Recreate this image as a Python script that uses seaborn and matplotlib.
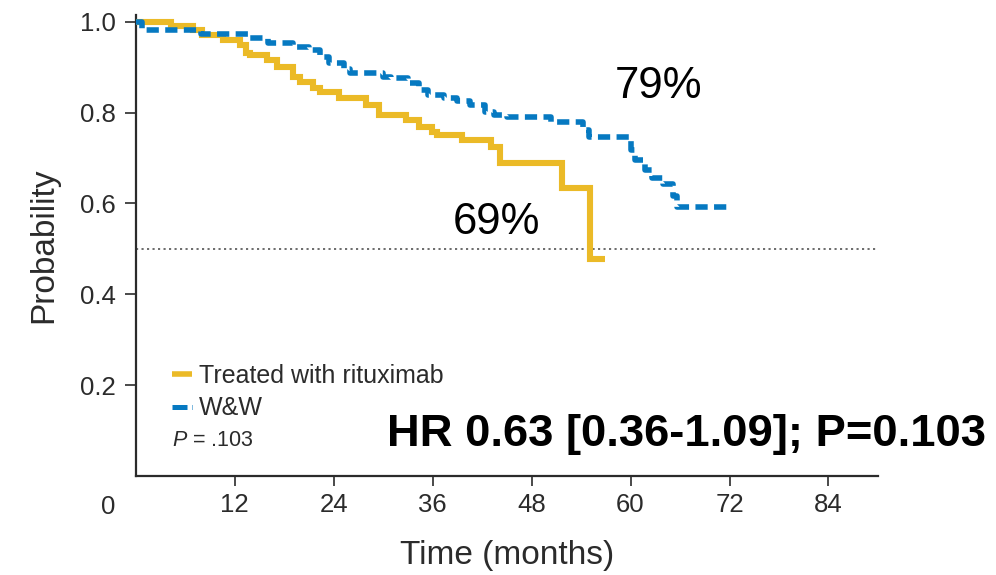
import matplotlib
matplotlib.use("Agg")
import matplotlib.pyplot as plt
from matplotlib.lines import Line2D
import pandas as pd
import seaborn as sns

# Kaplan-Meier step estimates (months, survival probability)
rtx_time = [0, 4.3, 6.9, 8.0, 10.6, 12.6, 13.4, 13.9, 15.9, 17.1, 19.1, 19.9,
            21.5, 22.3, 24.7, 27.9, 29.5, 32.8, 34.4, 35.9, 36.5, 39.6, 43.1,
            44.2, 51.7, 55.1, 56.9]
rtx_surv = [1.0, 0.991, 0.982, 0.971, 0.960, 0.949, 0.931, 0.927, 0.916, 0.901,
            0.879, 0.868, 0.853, 0.846, 0.831, 0.817, 0.795, 0.784, 0.769, 0.758,
            0.751, 0.740, 0.725, 0.69, 0.635, 0.477, 0.477]

ww_time = [0, 0.8, 7.9, 13.8, 16.0, 19.1, 21.0, 22.4, 23.4, 25.2, 26.0, 30.0,
           31.0, 33.0, 34.4, 35.4, 37.4, 39.0, 40.5, 42.3, 43.5, 45.0, 50.4,
           54.2, 55.0, 60.0, 60.5, 61.8, 62.6, 63.9, 65.2, 65.6, 71.8]
ww_surv = [1.0, 0.982, 0.972, 0.964, 0.954, 0.945, 0.938, 0.922, 0.909, 0.896,
           0.887, 0.879, 0.876, 0.866, 0.849, 0.839, 0.831, 0.826, 0.817, 0.802,
           0.795, 0.79, 0.779, 0.762, 0.746, 0.718, 0.696, 0.674, 0.655, 0.643,
           0.616, 0.593, 0.593]

group_labels = ["Treated with rituximab", "W&W"]
x_ticks = [12, 24, 36, 48, 60, 72, 84]
y_ticks = [0.2, 0.4, 0.6, 0.8, 1.0]
y_tick_labels = ["0.2", "0.4", "0.6", "0.8", "1.0"]
median_line = 0.5
rtx_pct_label = "69%"
ww_pct_label = "79%"
p_label = "$\\it{P}$ = .103"
hr_label = "HR 0.63 [0.36-1.09]; P=0.103"

YELLOW = "#EBBA27"
BLUE = "#0679C1"
INK = "#2B2B2B"

sns.set_theme(style="ticks")
plt.rcParams["font.family"] = ["Liberation Sans", "DejaVu Sans"]
plt.rcParams["mathtext.fontset"] = "custom"
plt.rcParams["mathtext.it"] = "Liberation Sans:italic"
plt.rcParams["mathtext.rm"] = "Liberation Sans"

df_rtx = pd.DataFrame({"time": rtx_time, "surv": rtx_surv})
df_ww = pd.DataFrame({"time": ww_time, "surv": ww_surv})

fig = plt.figure(figsize=(9.96, 5.75), dpi=100)
ax = fig.add_axes([0.1362, 0.1722, 0.7453, 0.8017])

ax.axhline(median_line, color="#444444", lw=1.1, linestyle=(0, (1.4, 2.2)), zorder=1)

sns.lineplot(data=df_rtx, x="time", y="surv", ax=ax, color=YELLOW, lw=4.4,
             drawstyle="steps-post", estimator=None, sort=False,
             solid_joinstyle="miter", solid_capstyle="butt", zorder=3)
sns.lineplot(data=df_ww, x="time", y="surv", ax=ax, color=BLUE, lw=4.0,
             drawstyle="steps-post", estimator=None, sort=False,
             linestyle=(0, (2.2, 1.15)), dash_capstyle="butt", zorder=4)

ax.set_xlim(0, 90)
ax.set_ylim(0, 1.0147)
ax.set_xticks(x_ticks)
ax.set_xticklabels([str(t) for t in x_ticks])
ax.set_yticks(y_ticks)
ax.set_yticklabels(y_tick_labels)
ax.annotate("0", xy=(0, 0), xycoords="data", xytext=(-20, -14),
            textcoords="offset points", ha="center", va="top",
            fontsize=18.5, color=INK)

for side in ("top", "right"):
    ax.spines[side].set_visible(False)
for side in ("left", "bottom"):
    ax.spines[side].set_color(INK)
    ax.spines[side].set_linewidth(1.6)
ax.tick_params(axis="y", length=8, width=1.2, color=INK, pad=6,
               labelsize=18.5, labelcolor=INK)
ax.tick_params(axis="x", length=7, width=1.2, color=INK, pad=5,
               labelsize=18.5, labelcolor=INK)

ax.set_xlabel("Time (months)", fontsize=24, color=INK, labelpad=17)
ax.set_ylabel("Probability", fontsize=24, color=INK, labelpad=15)

ax.text(43.7, 0.533, rtx_pct_label, ha="center", va="baseline",
        fontsize=31.5, color="black")
ax.text(63.4, 0.832, ww_pct_label, ha="center", va="baseline",
        fontsize=31.5, color="black")

handles = [Line2D([], [], color=YELLOW, lw=4.0, solid_capstyle="butt"),
           Line2D([], [], color=BLUE, lw=3.6, linestyle=(0, (3.0, 0.9)),
                  dash_capstyle="butt")]
ax.legend(handles, group_labels, loc="upper left", bbox_to_anchor=(0.049, 0.243),
          frameon=False, fontsize=18, handlelength=0.8, handletextpad=0.28,
          borderpad=0, borderaxespad=0, labelspacing=0.34, labelcolor=INK)

ax.text(0.049, 0.065, p_label, transform=ax.transAxes, ha="left",
        va="baseline", fontsize=15.5, color=INK)
ax.text(0.3385, 0.065, hr_label, transform=ax.transAxes, ha="left",
        va="baseline", fontsize=32.7, fontweight="bold", color="black")

fig.savefig("out.png", dpi=100, facecolor="white")
